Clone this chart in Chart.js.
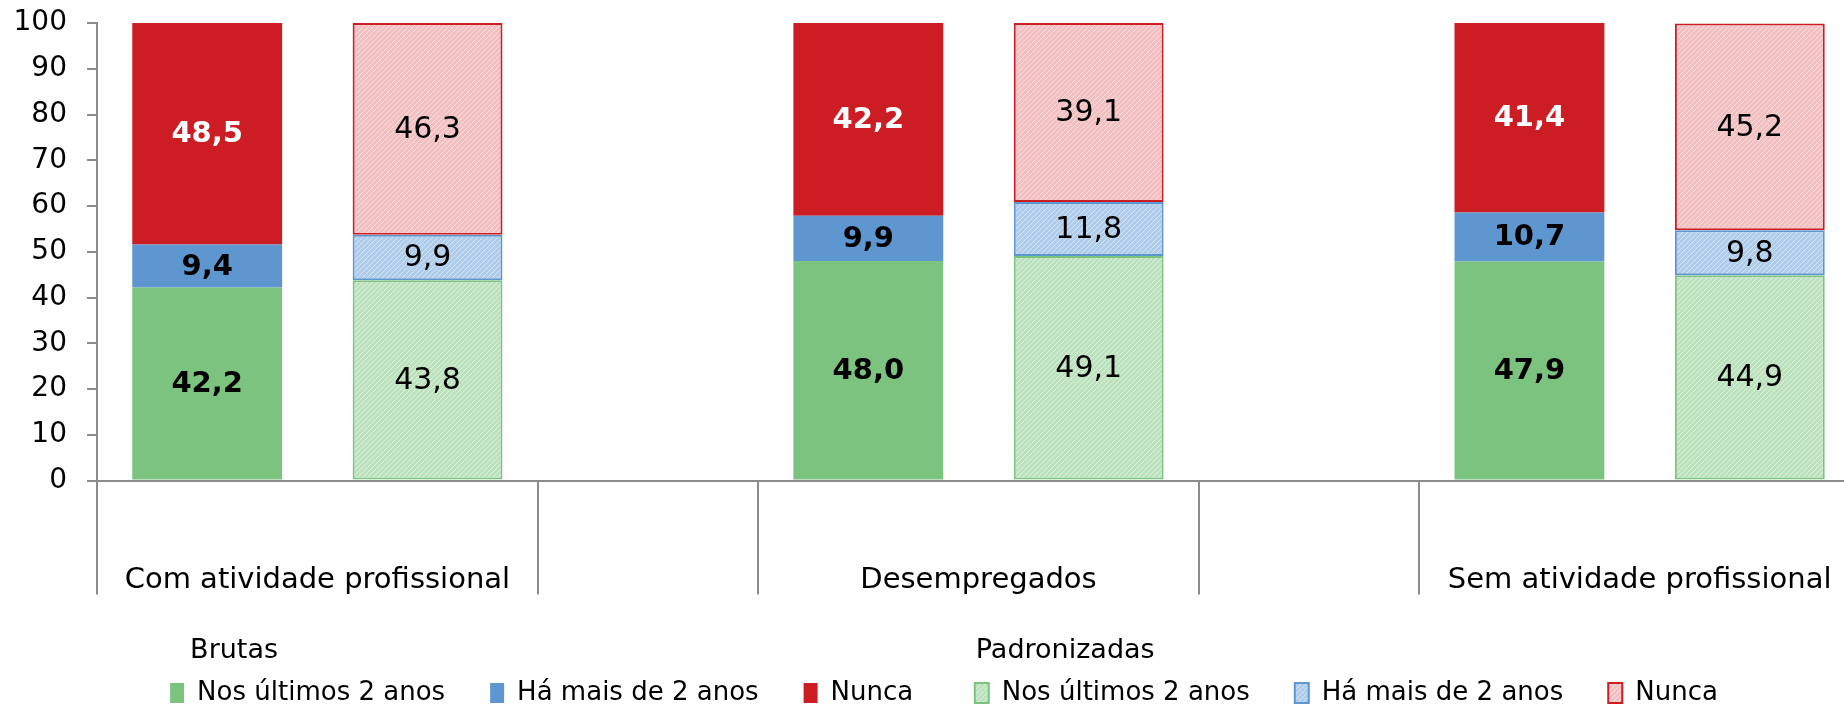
<!DOCTYPE html>
<html>
<head>
<meta charset="utf-8">
<script src="https://cdn.jsdelivr.net/npm/chart.js@4"></script>
<style>
  html, body { margin: 0; padding: 0; background: #fff; overflow: hidden; }
  #wrap { width: 1860px; height: 720px; position: relative; }
</style>
</head>
<body>
<div id="wrap"><canvas id="grafico"></canvas></div>
<script>
// categorias e valores (%)
const categorias = ['Com atividade profissional', 'Desempregados', 'Sem atividade profissional'];
const series = ['Nos últimos 2 anos', 'Há mais de 2 anos', 'Nunca'];

const brutasUltimos = [42.2, 48.0, 47.9];
const brutasMais = [9.4, 9.9, 10.7];
const brutasNunca = [48.5, 42.2, 41.4];

const padronUltimos = [43.8, 49.1, 44.9];
const padronMais = [9.9, 11.8, 9.8];
const padronNunca = [46.3, 39.1, 45.2];

const yTicks = [0, 10, 20, 30, 40, 50, 60, 70, 80, 90, 100];

// cores
const verde = '#7CC380', azul = '#5E96CF', vermelho = '#CC1C24';
const cinza = '#8C8C8C';

// cada categoria ocupa 3 posições: brutas, padronizadas, vazio
const labels = [];
categorias.forEach((c, i) => {
    labels.push(c, '');
    if (i < categorias.length - 1) labels.push('');
});

function espalhar(valores, desloc) {
    const arr = new Array(labels.length).fill(null);
    valores.forEach((v, i) => { arr[i * 3 + desloc] = v; });
    return arr;
}

// padrão tracejado diagonal (/) para as séries padronizadas
function hachura(fundo, linha) {
    const c = document.createElement('canvas');
    c.width = 5; c.height = 5;
    const g = c.getContext('2d');
    g.fillStyle = fundo;
    g.fillRect(0, 0, 5, 5);
    g.strokeStyle = linha;
    g.lineWidth = 1;
    g.beginPath();
    g.moveTo(0, 5); g.lineTo(5, 0);
    g.moveTo(-2.5, 2.5); g.lineTo(2.5, -2.5);
    g.moveTo(2.5, 7.5); g.lineTo(7.5, 2.5);
    g.stroke();
    return g.createPattern(c, 'repeat');
}

const hVerde = hachura('#BBE2BC', '#DDF1DE');
const hAzul = hachura('#AFCCEA', '#D5E4F4');
const hVermelho = hachura('#F3C0C2', '#FADEDF');

Chart.defaults.font.family = "'DejaVu Sans', Verdana, sans-serif";
Chart.defaults.color = '#000';

const datasets = [
    { label: series[0], data: espalhar(brutasUltimos, 0), backgroundColor: verde, grupo: 'b' },
    { label: series[1], data: espalhar(brutasMais, 0), backgroundColor: azul, grupo: 'b' },
    { label: series[2] + '\u00a0\u00a0', data: espalhar(brutasNunca, 0), backgroundColor: vermelho, grupo: 'b', branco: true },
    { label: series[0], data: espalhar(padronUltimos, 1), backgroundColor: hVerde, borderColor: verde, borderWidth: 2, borderSkipped: false, grupo: 'p' },
    { label: series[1], data: espalhar(padronMais, 1), backgroundColor: hAzul, borderColor: azul, borderWidth: 2, borderSkipped: false, grupo: 'p' },
    { label: series[2], data: espalhar(padronNunca, 1), backgroundColor: hVermelho, borderColor: vermelho, borderWidth: 2, borderSkipped: false, grupo: 'p' }
];

// rótulos de valores dentro das barras
const rotulosValores = {
    id: 'rotulosValores',
    afterDatasetsDraw(chart) {
        const ctx = chart.ctx;
        ctx.save();
        ctx.textAlign = 'center';
        ctx.textBaseline = 'middle';
        chart.data.datasets.forEach((ds, i) => {
            const meta = chart.getDatasetMeta(i);
            meta.data.forEach((bar, j) => {
                const v = ds.data[j];
                if (v === null) return;
                const negrito = ds.grupo === 'b';
                ctx.font = negrito ? "bold 29px 'DejaVu Sans'" : "30px 'DejaVu Sans'";
                ctx.fillStyle = ds.branco ? '#fff' : '#000';
                ctx.fillText(v.toFixed(1).replace('.', ','), bar.x, (bar.y + bar.base) / 2 + 1);
            });
        });
        ctx.restore();
    }
};

// rótulos das categorias (centrados nos dois grupos de barras)
const rotulosCategorias = {
    id: 'rotulosCategorias',
    afterDraw(chart) {
        const x = chart.scales.x;
        const ctx = chart.ctx;
        ctx.save();
        ctx.font = "29px 'DejaVu Sans'";
        ctx.fillStyle = '#000';
        ctx.textAlign = 'center';
        ctx.textBaseline = 'alphabetic';
        categorias.forEach((c, i) => {
            const meio = (x.getPixelForValue(i * 3) + x.getPixelForValue(i * 3 + 1)) / 2;
            ctx.fillText(c, meio, chart.chartArea.bottom + 107);
        });
        ctx.restore();
    }
};

// títulos dos grupos da legenda
const titulosLegenda = {
    id: 'titulosLegenda',
    afterLayout(chart) {
        // pequeno deslocamento da legenda para a direita
        chart.legend.left += 8;
        chart.legend.right += 8;
    },
    afterDraw(chart) {
        const caixas = chart.legend.legendHitBoxes;
        if (!caixas || caixas.length < 4) return;
        const ctx = chart.ctx;
        ctx.save();
        ctx.font = "27px 'DejaVu Sans'";
        ctx.fillStyle = '#000';
        ctx.textBaseline = 'middle';
        ctx.textAlign = 'left';
        const y = caixas[0].top + caixas[0].height / 2 - 42;
        ctx.fillText('Brutas', caixas[0].left + 20, y);
        ctx.fillText('Padronizadas', caixas[3].left + 1, y);
        ctx.restore();
    }
};

const separadores = [0, 2, 3, 5, 6, 8];

new Chart(document.getElementById('grafico'), {
    type: 'bar',
    data: { labels: labels, datasets: datasets },
    plugins: [rotulosValores, rotulosCategorias, titulosLegenda],
    options: {
        responsive: true,
        maintainAspectRatio: false,
        animation: false,
        layout: { padding: { top: 23, left: 12, right: 0, bottom: 4 } },
        datasets: { bar: { categoryPercentage: 1, barPercentage: 0.68 } },
        scales: {
            x: {
                stacked: true,
                offset: true,
                grid: {
                    offset: true,
                    drawOnChartArea: false,
                    drawTicks: true,
                    tickLength: 114,
                    lineWidth: 2,
                    color: ctx => separadores.includes(ctx.index) ? cinza : 'rgba(0,0,0,0)'
                },
                border: { display: true, color: cinza, width: 2 },
                ticks: { display: false }
            },
            y: {
                stacked: true,
                min: 0,
                max: 100,
                afterBuildTicks: axis => { axis.ticks = yTicks.map(v => ({ value: v })); },
                afterFit: axis => {
                    axis.width = 85;
                    axis.paddingTop = 0;
                    axis.paddingBottom = 0;
                },
                grid: {
                    drawOnChartArea: false,
                    drawTicks: true,
                    tickLength: 10,
                    lineWidth: 2,
                    color: cinza
                },
                border: { display: true, color: cinza, width: 2 },
                ticks: { padding: 20, font: { size: 28 }, color: '#000' }
            }
        },
        plugins: {
            tooltip: { enabled: false },
            legend: {
                position: 'bottom',
                title: { display: true, text: ' ', font: { size: 27 }, padding: { top: 4, bottom: 4 } },
                labels: {
                    boxWidth: 14,
                    boxHeight: 20,
                    padding: 45,
                    font: { size: 26 },
                    color: '#000'
                }
            }
        }
    }
});
</script>
</body>
</html>
